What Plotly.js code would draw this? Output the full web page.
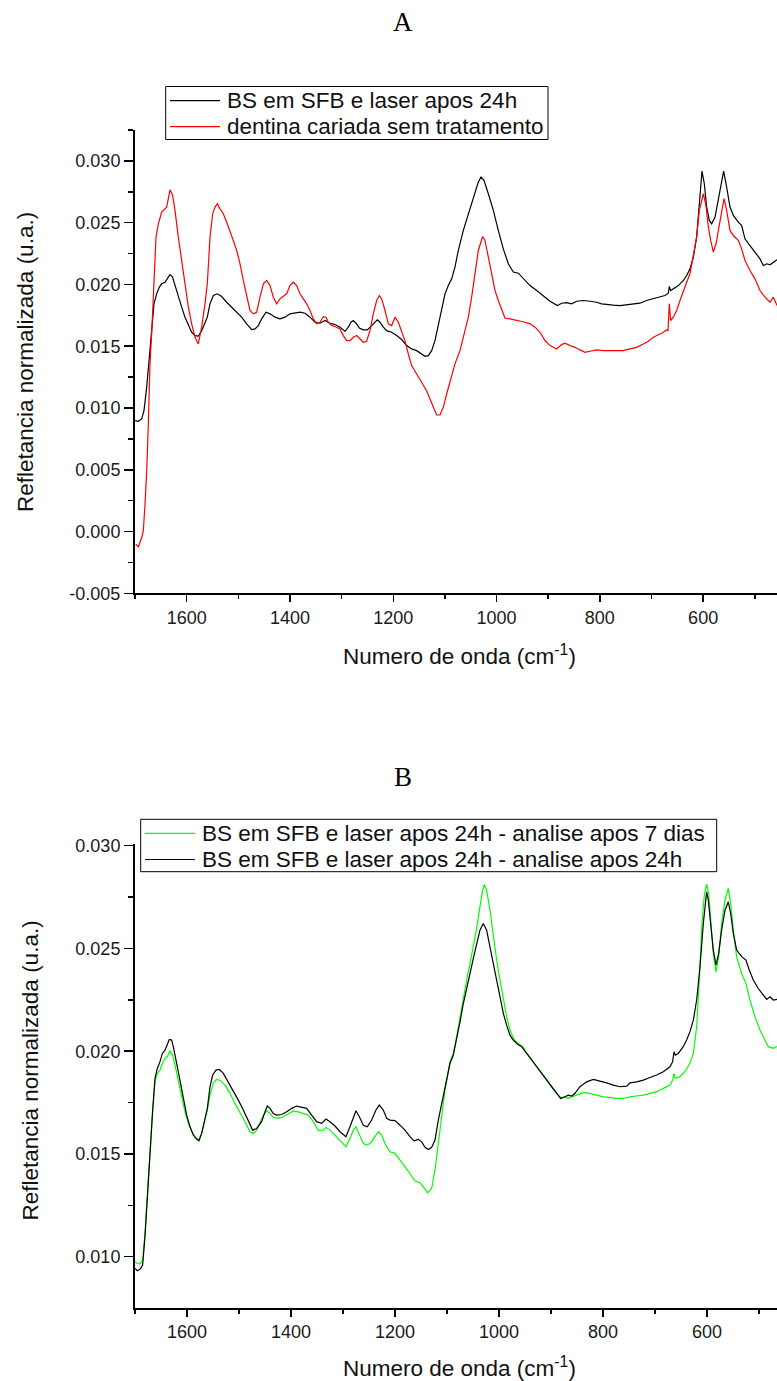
<!DOCTYPE html>
<html>
<head>
<meta charset="utf-8">
<script src="https://cdn.plot.ly/plotly-3.0.1.min.js"></script>
<style>html,body{margin:0;padding:0;background:#fff;}</style>
</head>
<body>
<div id="chart" style="width:777px;height:1381px;"></div>
<script>
// ---------- Panel A ----------
const panelTitleA = "A";
const seriesNameA1 = "BS em SFB e laser apos 24h";
const seriesNameA2 = "dentina cariada sem tratamento";

const waveA1 = [1700,1693.6,1687.1,1682.6,1677.4,1672.3,1667.7,1663.2,1658.1,1652.9,1648.4,1641.9,1635.5,1632.2,1627.7,1622.6,1616.1,1609.6,1603.2,1596.7,1590.3,1583.8,1577.4,1570.9,1564.5,1560,1554.8,1548.3,1540.6,1532.2,1522.5,1512.8,1503.2,1493.5,1483.8,1474.1,1467.7,1461.2,1454.8,1446.4,1438.6,1428.9,1419.3,1409.6,1399.9,1390.2,1380.5,1370.9,1361.2,1351.5,1341.8,1332.1,1322.5,1312.8,1303.1,1293.4,1287,1281.8,1277.3,1272.1,1265.7,1257.9,1250.2,1241.8,1235.3,1230.8,1225.7,1219.2,1212.7,1203.1,1193.4,1183.7,1174,1164.4,1154.7,1145,1138.5,1132.1,1125.6,1119.2,1112.7,1106.3,1099.8,1093.4,1086.9,1080.5,1074,1064.3,1054.6,1045,1035.3,1030.1,1024.3,1015.9,1006.2,996.6,986.9,977.2,967.5,957.8,948.2,935.2,922.3,909.4,896.5,882.3,873.9,864.2,854.6,844.9,832,819.1,806.2,796.5,786.8,773.9,761,748.1,735.2,722.3,709.4,696.4,683.5,673.9,667.4,665.5,662.9,657.7,648,638.4,631.9,625.5,619,612.6,607.4,602.2,597.7,593.2,588,583.5,577,570.6,564.1,560.3,554.5,548,541.5,531.9,525.4,519,509.3,499.6,489.9,483.5,477,470.6,464.1,457];
const reflA1 = [0.00897,0.00892,0.00911,0.00978,0.01167,0.0141,0.01654,0.01843,0.01924,0.01978,0.02005,0.02018,0.02059,0.0208,0.02064,0.01991,0.01897,0.01816,0.01735,0.01667,0.01613,0.01586,0.01581,0.01626,0.01694,0.01735,0.01843,0.0191,0.01924,0.01902,0.01856,0.01816,0.01775,0.01735,0.01681,0.01635,0.0164,0.01667,0.01721,0.01775,0.01762,0.01735,0.01721,0.01735,0.01762,0.01767,0.01775,0.01767,0.01735,0.01694,0.01686,0.01708,0.01686,0.01675,0.01654,0.01621,0.01654,0.01694,0.01708,0.01686,0.01648,0.01632,0.01632,0.01667,0.01694,0.01713,0.01694,0.01654,0.01626,0.01613,0.01586,0.01554,0.01505,0.01478,0.01464,0.01432,0.01418,0.01424,0.01464,0.01545,0.01681,0.01816,0.01924,0.01991,0.02045,0.0214,0.02275,0.02437,0.02572,0.02707,0.02829,0.02869,0.02842,0.02734,0.02599,0.02437,0.02288,0.02167,0.021,0.02091,0.02045,0.01991,0.01951,0.01905,0.01864,0.01829,0.01848,0.01853,0.01843,0.01864,0.0187,0.01864,0.01856,0.01843,0.01837,0.01832,0.01829,0.01837,0.01843,0.01848,0.0187,0.01883,0.01897,0.0191,0.01929,0.01983,0.01951,0.01964,0.01991,0.02032,0.02072,0.02126,0.0222,0.02383,0.0268,0.02918,0.02815,0.02626,0.02518,0.02491,0.02545,0.0268,0.02842,0.02918,0.02788,0.02626,0.02559,0.02504,0.02477,0.02369,0.02315,0.02261,0.02207,0.02153,0.02167,0.02159,0.0218,0.02199];

const waveA2 = [1698.6,1693.6,1687,1683.9,1680.6,1677.3,1674.2,1671,1667.7,1659.3,1654.8,1651.6,1648.4,1638.7,1635.5,1632.2,1627.1,1622.6,1616.1,1609.6,1603.2,1596.7,1590.3,1583.8,1577.4,1570.9,1564.5,1560,1554.8,1549.6,1545.1,1540.6,1535.4,1529,1522.5,1516.1,1509.6,1503.2,1496.7,1490.3,1483.8,1477.4,1470.9,1464.4,1458,1451.5,1445.1,1438.6,1432.2,1425.7,1419.3,1412.8,1406.4,1399.9,1393.5,1387,1380.5,1374.1,1367.6,1361.2,1354.7,1348.3,1341.8,1335.4,1330.2,1325.7,1319.2,1309.5,1303.1,1296.6,1290.2,1283.7,1277.3,1270.8,1264.4,1257.9,1251.5,1245,1238.6,1232.1,1227,1222.4,1216,1209.5,1203.1,1196.6,1190.2,1183.7,1177.3,1170.8,1164.4,1154.7,1145,1135.4,1128.9,1122.4,1116,1109.5,1103.1,1096.6,1090.1,1080.5,1070.8,1061.1,1054.6,1048.2,1041.7,1035.3,1026.9,1022.4,1015.9,1009.5,1003,996.6,990.1,983.6,974,964.3,954.6,944.9,935.2,925.6,915.9,906.2,896.5,883.6,873.9,867.5,857.8,848.1,838.4,828.8,819.1,806.2,793.3,780.4,767.4,754.5,741.6,728.7,715.8,706.1,696.4,686.8,677.1,670.6,668,665.5,662.9,657.7,651.3,644.8,638.4,631.9,625.5,619,612.6,607.4,602.2,599.6,595.1,589.9,585.4,580.3,575.1,568.6,563.5,559.6,554.5,548,541.5,531.9,525.4,519,509.3,499.6,489.9,480.2,470.6,464.1,457];
const reflA2 = [-0.00102,-0.00124,-0.00049,0.00006,0.00222,0.00492,0.0087,0.01357,0.0160,0.02383,0.02491,0.02531,0.02585,0.02626,0.02707,0.02766,0.02721,0.02599,0.02383,0.02194,0.02005,0.01816,0.01681,0.01572,0.01518,0.01654,0.01843,0.02005,0.02383,0.02572,0.02626,0.02653,0.02612,0.02572,0.02504,0.02437,0.02356,0.02275,0.02167,0.02032,0.01897,0.01789,0.01762,0.01775,0.01897,0.02005,0.02032,0.01991,0.01897,0.01843,0.01883,0.01902,0.01924,0.01991,0.02018,0.01991,0.01924,0.01883,0.01843,0.01789,0.01721,0.01681,0.01694,0.0174,0.01735,0.01694,0.01667,0.01653,0.0164,0.01586,0.01545,0.01545,0.01572,0.01586,0.01559,0.01532,0.0154,0.01626,0.01762,0.0187,0.0191,0.01883,0.01789,0.01681,0.01667,0.01735,0.01694,0.01626,0.01545,0.01437,0.01343,0.01275,0.01208,0.0114,0.01073,0.01005,0.00943,0.00943,0.01005,0.01113,0.01221,0.01357,0.01464,0.01627,0.01735,0.01897,0.02086,0.02275,0.02388,0.02356,0.02221,0.02086,0.01951,0.0187,0.01789,0.01726,0.01721,0.01713,0.01708,0.01694,0.01681,0.01654,0.01613,0.01546,0.01505,0.01478,0.01513,0.01524,0.01505,0.01491,0.0147,0.01451,0.01459,0.0147,0.01464,0.01464,0.0147,0.01464,0.01478,0.01491,0.01518,0.0154,0.01573,0.01591,0.01613,0.01632,0.01627,0.01843,0.01708,0.01735,0.01789,0.0187,0.01951,0.02018,0.02086,0.02221,0.02383,0.02599,0.02707,0.02734,0.02653,0.02464,0.02356,0.02261,0.02329,0.02491,0.02599,0.02694,0.02599,0.02437,0.02396,0.02356,0.02288,0.02194,0.02113,0.02045,0.01951,0.01897,0.01856,0.01897,0.01829];

const yTickValsA = [-0.005,0.000,0.005,0.010,0.015,0.020,0.025,0.030];
const yTickTextA = ["-0.005","0.000","0.005","0.010","0.015","0.020","0.025","0.030"];

// ---------- Panel B ----------
const panelTitleB = "B";
const seriesNameB1 = "BS em SFB e laser apos 24h - analise apos 7 dias";
const seriesNameB2 = "BS em SFB e laser apos 24h - analise apos 24h";

const waveB1 = [1700,1695.5,1690.4,1685.3,1680.8,1676.3,1671.2,1666,1661.5,1657.1,1651.9,1647.4,1642.3,1637.8,1632.7,1627.6,1623.1,1616.7,1610.3,1603.9,1597.4,1591,1584.6,1578.2,1571.8,1565.4,1560.9,1555.8,1549.4,1543,1536.5,1526.9,1517.3,1507.7,1498.1,1488.5,1478.9,1472.4,1466,1459.6,1453.2,1446.8,1440.4,1434,1424.4,1414.8,1405.1,1395.5,1385.9,1376.3,1366.7,1357.1,1347.5,1337.8,1332.7,1325,1315.4,1305.8,1294.3,1286.6,1280.2,1275,1268.6,1260.9,1253.2,1244.9,1238.5,1232.1,1225.7,1219.3,1209.6,1200,1190.4,1180.8,1171.2,1161.6,1151.9,1145.5,1137.2,1129.5,1123.1,1116.7,1110.3,1103.9,1094.3,1087.9,1081.5,1075,1068.6,1062.2,1055.8,1049.4,1043,1036.6,1031.5,1028.2,1023.8,1017.4,1010.9,1004.5,998.1,991.7,985.3,978.9,971.2,962.9,954.5,946.8,937.2,927.6,918,908.4,898.8,889.2,881.5,873.1,866.7,860.3,850.7,837.9,825,812.2,799.4,786.6,773.8,760.9,748.1,735.3,722.5,709.7,696.8,684,671.2,666.1,663.5,660.9,652,642.4,632.7,626.3,619.9,614.8,609.7,605.2,600.7,596.8,593,587.9,582.7,577.6,571.9,565.4,559,554.5,549.4,543,533.4,525.1,517.4,507.8,498.1,488.5,482.1,472.5,465.4];
const reflB1 = [0.00976,0.00968,0.00964,0.00984,0.01114,0.01308,0.01503,0.01714,0.01851,0.01892,0.01908,0.0194,0.01965,0.01973,0.02002,0.01981,0.01932,0.01859,0.01786,0.01705,0.01649,0.01608,0.01584,0.01568,0.016,0.01665,0.01714,0.01786,0.01843,0.01863,0.01859,0.01835,0.01795,0.01746,0.01705,0.01657,0.01608,0.016,0.01616,0.01649,0.01689,0.0171,0.01697,0.01678,0.01673,0.01681,0.01697,0.01709,0.01705,0.01697,0.01689,0.01657,0.01613,0.01616,0.01629,0.01616,0.01592,0.01568,0.01535,0.01576,0.01616,0.01632,0.01592,0.01551,0.01543,0.01559,0.01584,0.01608,0.01592,0.01551,0.01511,0.01503,0.0147,0.01438,0.01405,0.01368,0.0136,0.0134,0.01311,0.01332,0.01422,0.01551,0.01697,0.01811,0.01949,0.01989,0.0207,0.02167,0.02265,0.02346,0.02427,0.02508,0.02597,0.02703,0.02784,0.02811,0.02784,0.02686,0.02557,0.02443,0.02346,0.02249,0.02168,0.02103,0.02057,0.02038,0.02022,0.01992,0.01957,0.01924,0.01892,0.0186,0.01824,0.01795,0.01774,0.01778,0.0177,0.01778,0.01786,0.01798,0.01795,0.01786,0.01778,0.01775,0.0177,0.0177,0.01778,0.01782,0.01786,0.01795,0.01803,0.01819,0.01835,0.0186,0.01892,0.01868,0.01876,0.019,0.01941,0.01989,0.02119,0.02346,0.02621,0.02759,0.02813,0.02767,0.02638,0.02476,0.02386,0.02459,0.02621,0.02735,0.02792,0.02719,0.02589,0.02459,0.02378,0.0233,0.02249,0.02168,0.02103,0.02054,0.02022,0.02014,0.02022];

const waveB2 = [1700,1695.5,1690.4,1685.3,1680.8,1676.3,1671.2,1666,1661.5,1657.1,1651.9,1647.4,1642.3,1637.8,1634,1629.5,1626.3,1619.9,1613.5,1607.1,1600.6,1594.2,1587.8,1581.4,1576.9,1571.8,1565.4,1560.9,1555.8,1550.6,1544.2,1537.8,1530.1,1520.5,1510.9,1501.3,1491.7,1482.1,1473.7,1466,1456.4,1450,1445.5,1440.4,1434,1427.6,1418,1408.3,1398.7,1389.1,1379.5,1369.9,1360.3,1350.7,1341,1332.7,1325,1315.4,1305.8,1294.3,1286.6,1280.2,1275,1268.6,1260.9,1253.2,1244.9,1236.6,1230.2,1222.5,1216,1209.6,1200,1190.4,1180.8,1171.2,1163.5,1155.2,1148.7,1142.3,1135.9,1129.5,1123.1,1116.7,1110.3,1103.9,1094.3,1087.9,1081.5,1075,1068.6,1062.2,1055.8,1049.4,1043,1036.6,1030.2,1023.8,1017.4,1010.9,1004.5,998.1,991.7,985.3,978.9,972.5,964.8,956.5,946.8,937.2,927.6,918,908.4,898.8,889.2,881.5,873.1,866.7,860.3,853.9,844.3,831.5,818.6,805.8,793,780.2,767.4,754.5,748.1,735.3,722.5,709.7,696.8,684,671.2,666.1,663.5,660.9,655.2,645.6,639.2,632.7,626.3,619.9,613.5,607.1,602.6,600.7,597.5,593,587.9,582.7,577.6,571.9,565.4,559,554.5,549.4,543,533.4,525.1,518.7,511,501.4,493,485.2,478.9,472.5,465.4];
const reflB2 = [0.00943,0.00932,0.00939,0.0096,0.01097,0.01292,0.01503,0.01714,0.01868,0.01916,0.01949,0.01989,0.02005,0.0203,0.02057,0.02054,0.02022,0.01941,0.01851,0.01762,0.01689,0.01632,0.01592,0.01571,0.01564,0.016,0.01673,0.01722,0.01827,0.01884,0.01908,0.01911,0.01892,0.01851,0.01803,0.01762,0.01714,0.01657,0.01616,0.01624,0.01657,0.01705,0.01733,0.01722,0.01697,0.01689,0.01692,0.01705,0.01722,0.01733,0.01726,0.01722,0.01689,0.01657,0.01649,0.0167,0.01657,0.01636,0.01608,0.01584,0.01632,0.01681,0.0171,0.01681,0.0164,0.01632,0.01665,0.01714,0.01738,0.01714,0.01673,0.01665,0.01662,0.0164,0.01616,0.01584,0.01564,0.01571,0.01559,0.01532,0.01522,0.01532,0.01568,0.01665,0.01746,0.01819,0.0194,0.01981,0.02054,0.02143,0.02232,0.02313,0.02378,0.02451,0.02524,0.02589,0.02621,0.02589,0.02508,0.02427,0.02346,0.02265,0.02184,0.02127,0.02078,0.02054,0.02035,0.02022,0.01989,0.01957,0.01924,0.01892,0.0186,0.01827,0.01795,0.0177,0.01778,0.01786,0.01782,0.01795,0.01827,0.01851,0.01863,0.01856,0.01846,0.01835,0.01827,0.0183,0.01846,0.01851,0.01859,0.01872,0.01884,0.019,0.01924,0.01949,0.01997,0.01981,0.01989,0.02022,0.02054,0.02095,0.02151,0.02249,0.02411,0.02621,0.02751,0.02775,0.02735,0.02605,0.02492,0.02419,0.02476,0.02589,0.02686,0.02727,0.0267,0.02573,0.02492,0.0246,0.02443,0.02395,0.02346,0.02305,0.02278,0.02252,0.02265,0.02249,0.02252];

const yTickValsB = [0.010,0.015,0.020,0.025,0.030];
const yTickTextB = ["0.010","0.015","0.020","0.025","0.030"];

// ---------- Shared text ----------
const xAxisTitle = "Numero de onda (cm<sup>-1</sup>)";
const yAxisTitle = "Refletancia normalizada (u.a.)";

// ---------- Drawing ----------
const W = 777, H = 1381;
const px = v => v / W;
const py = v => 1 - v / H;
const sans = "Liberation Sans, Arial, sans-serif";
const serif = "Liberation Serif, Times New Roman, serif";

const colA1 = "#000000", colA2 = "#ff0000", colB1 = "#00ff00", colB2 = "#000000";

const traces = [
  {x: waveA1, y: reflA1, name: seriesNameA1, type: "scatter", mode: "lines",
   line: {color: colA1, width: 1.2}, xaxis: "x", yaxis: "y"},
  {x: waveA2, y: reflA2, name: seriesNameA2, type: "scatter", mode: "lines",
   line: {color: colA2, width: 1.2}, xaxis: "x", yaxis: "y"},
  {x: waveB1, y: reflB1, name: seriesNameB1, type: "scatter", mode: "lines",
   line: {color: colB1, width: 1.2}, xaxis: "x2", yaxis: "y2"},
  {x: waveB2, y: reflB2, name: seriesNameB2, type: "scatter", mode: "lines",
   line: {color: colB2, width: 1.2}, xaxis: "x2", yaxis: "y2"}
];

function xAxis(range, anchor) {
  return {
    domain: [px(135), 1], range: range, anchor: anchor,
    tickmode: "linear", tick0: 0, dtick: 200,
    ticks: "outside", ticklen: 7, tickwidth: 1.5, tickcolor: "#000",
    minor: {dtick: 100, tick0: 0, ticks: "outside", ticklen: 4, tickwidth: 1.5, tickcolor: "#000"},
    showline: true, linewidth: 2, linecolor: "#000",
    showgrid: false, zeroline: false,
    tickfont: {family: sans, size: 18, color: "#1a1a1a"},
    fixedrange: true
  };
}
function yAxis(domain, range, vals, text, anchor) {
  return {
    domain: domain, range: range, anchor: anchor,
    tickmode: "array", tickvals: vals, ticktext: text,
    ticks: "outside", ticklen: 9, tickwidth: 1.5, tickcolor: "#000",
    minor: {dtick: 0.0025, tick0: 0, ticks: "outside", ticklen: 5, tickwidth: 1.5, tickcolor: "#000"},
    showline: true, linewidth: 2, linecolor: "#000",
    showgrid: false, zeroline: false,
    tickfont: {family: sans, size: 18, color: "#1a1a1a"},
    fixedrange: true
  };
}

// Legend boxes drawn as paper-space shapes + text (compact, like the original)
function legendParts(box, rows) {
  const shapes = [{type: "rect", xref: "paper", yref: "paper",
    x0: px(box.x0), x1: px(box.x1), y0: py(box.y0), y1: py(box.y1),
    line: {color: "#000", width: 1}, fillcolor: "rgba(255,255,255,0)"}];
  const anns = [];
  rows.forEach(r => {
    shapes.push({type: "line", xref: "paper", yref: "paper",
      x0: px(box.lx0), x1: px(box.lx1), y0: py(r.y), y1: py(r.y),
      line: {color: r.color, width: 1.2}});
    anns.push({text: r.name, x: px(box.tx), y: py(r.y), xref: "paper", yref: "paper",
      showarrow: false, xanchor: "left", yanchor: "middle",
      font: {family: sans, size: 22.5, color: "#111"}});
  });
  return {shapes, anns};
}
const legA = legendParts({x0: 165.7, x1: 548, y0: 86.5, y1: 139.5, lx0: 170, lx1: 220, tx: 224.5},
  [{name: seriesNameA1, color: colA1, y: 100.7}, {name: seriesNameA2, color: colA2, y: 126.7}]);
const legB = legendParts({x0: 140.7, x1: 716.7, y0: 819.3, y1: 871.7, lx0: 145, lx1: 195, tx: 199.5},
  [{name: seriesNameB1, color: colB1, y: 833.3}, {name: seriesNameB2, color: colB2, y: 859.5}]);

const layout = {
  width: W, height: H,
  margin: {l: 0, r: 0, t: 0, b: 0, pad: 0},
  paper_bgcolor: "#ffffff", plot_bgcolor: "rgba(0,0,0,0)",
  showlegend: false,
  xaxis: xAxis([1700, 457], "y"),
  yaxis: yAxis([py(593.3), py(130)], [-0.005, 0.0325], yTickValsA, yTickTextA, "x"),
  xaxis2: xAxis([1700, 465.4], "y2"),
  yaxis2: yAxis([py(1307.7), py(843.6)], [0.00752, 0.0301], yTickValsB, yTickTextB, "x2"),
  shapes: legA.shapes.concat(legB.shapes),
  annotations: [
    {text: panelTitleA, x: px(403), y: py(22), xref: "paper", yref: "paper",
     showarrow: false, xanchor: "center", yanchor: "middle",
     font: {family: serif, size: 27, color: "#000"}},
    {text: panelTitleB, x: px(403), y: py(777), xref: "paper", yref: "paper",
     showarrow: false, xanchor: "center", yanchor: "middle",
     font: {family: serif, size: 27, color: "#000"}},
    {text: xAxisTitle, x: px(459), y: py(655), xref: "paper", yref: "paper",
     showarrow: false, xanchor: "center", yanchor: "middle",
     font: {family: sans, size: 22.5, color: "#111"}},
    {text: xAxisTitle, x: px(459), y: py(1367), xref: "paper", yref: "paper",
     showarrow: false, xanchor: "center", yanchor: "middle",
     font: {family: sans, size: 22.5, color: "#111"}},
    {text: yAxisTitle, x: px(25), y: py(362), xref: "paper", yref: "paper",
     showarrow: false, xanchor: "center", yanchor: "middle", textangle: -90,
     font: {family: sans, size: 22.5, color: "#111"}},
    {text: yAxisTitle, x: px(29.5), y: py(1071), xref: "paper", yref: "paper",
     showarrow: false, xanchor: "center", yanchor: "middle", textangle: -90,
     font: {family: sans, size: 22.5, color: "#111"}}
  ].concat(legA.anns, legB.anns)
};

Plotly.newPlot("chart", traces, layout, {staticPlot: true, displayModeBar: false});
</script>
</body>
</html>
